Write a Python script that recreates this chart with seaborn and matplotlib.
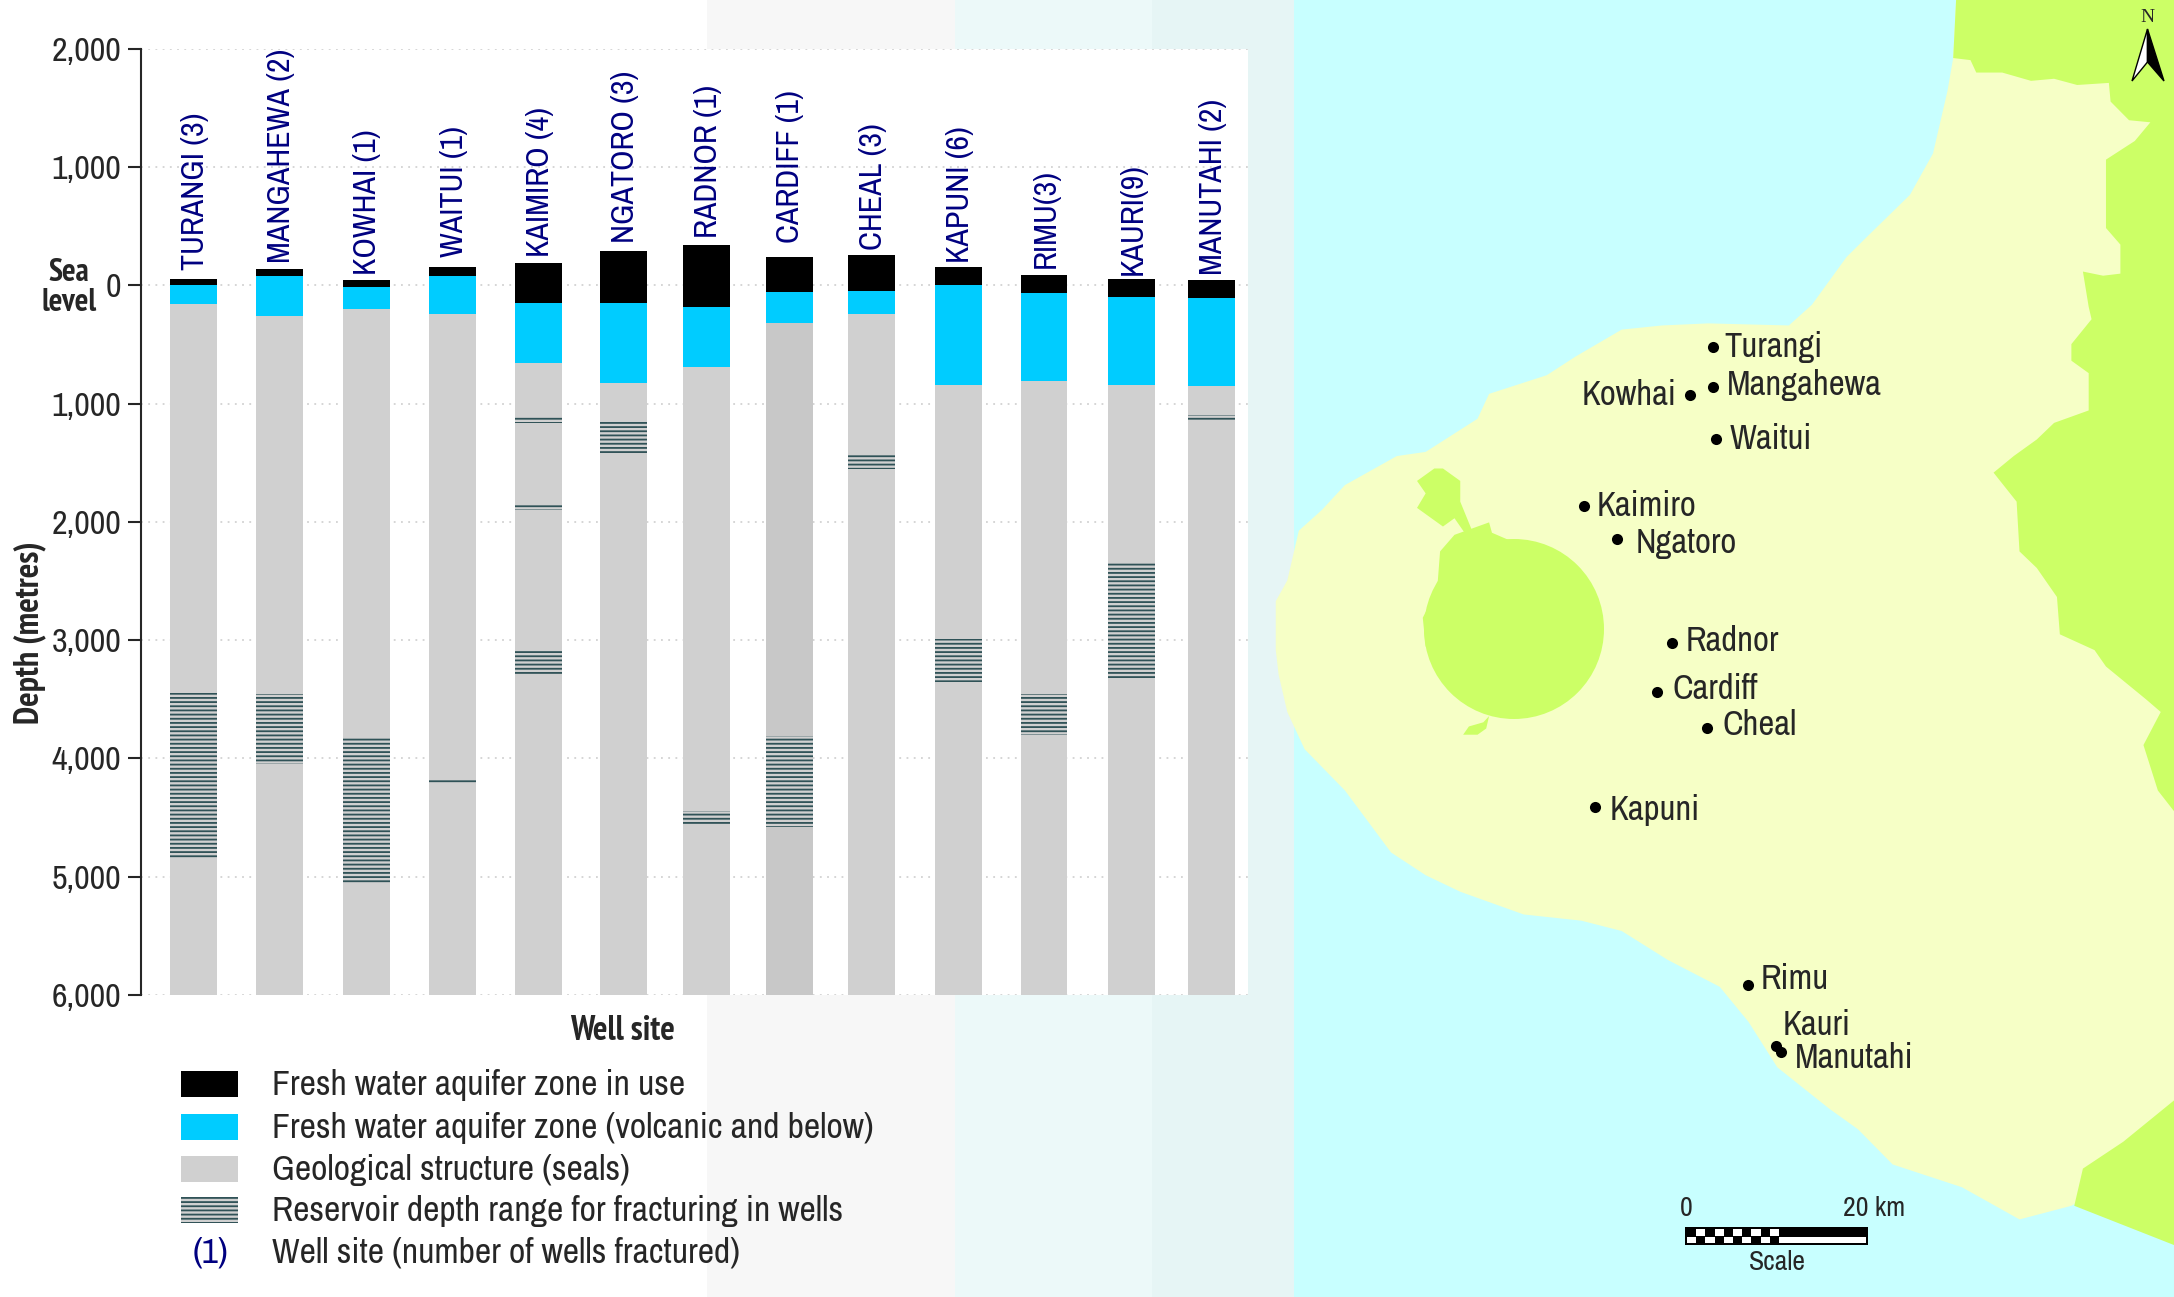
#! /usr/bin/env python
# Taranaki well sites: aquifer zones and fracturing depths, with location map
from matplotlib.patches import Circle, Polygon, Rectangle
import matplotlib.pyplot as plt
import numpy as np
import pandas as pd
import seaborn as sns

# settings
sns.set_style("ticks")
NARROW = ['Archivo Narrow', 'Liberation Sans']
NARROW_BOLD = ['PT Sans Narrow', 'Liberation Sans']
plt.rcParams['font.family'] = NARROW
plt.rcParams['hatch.linewidth'] = 1.3

# DATASETS
# depths in metres below sea level (negative = above sea level)
sites = ['TURANGI', 'MANGAHEWA', 'KOWHAI', 'WAITUI', 'KAIMIRO', 'NGATORO', 'RADNOR',
         'CARDIFF', 'CHEAL', 'KAPUNI', 'RIMU', 'KAURI', 'MANUTAHI']
site_labels = ['TURANGI (3)', 'MANGAHEWA (2)', 'KOWHAI (1)', 'WAITUI (1)', 'KAIMIRO (4)',
               'NGATORO (3)', 'RADNOR (1)', 'CARDIFF (1)', 'CHEAL (3)', 'KAPUNI (6)',
               'RIMU(3)', 'KAURI(9)', 'MANUTAHI (2)']
use_top = [-51, -138, -45, -152, -189, -290, -341, -239, -254, -152, -87, -51, -42]
use_base = [0, -76, 14, -79, 152, 152, 186, 59, 51, 0, 62, 99, 107]
volcanic_base = [160, 259, 200, 242, 656, 825, 690, 318, 242, 842, 808, 842, 854]
total_depth = 6000

# reservoir depth ranges for fracturing
res_site = ['TURANGI', 'MANGAHEWA', 'KOWHAI', 'WAITUI', 'KAIMIRO', 'KAIMIRO', 'KAIMIRO', 'NGATORO',
            'RADNOR', 'CARDIFF', 'CHEAL', 'KAPUNI', 'RIMU', 'KAURI', 'MANUTAHI']
res_top = [3445, 3456, 3830, 4169, 1104, 1845, 3090, 1155, 4445, 3811, 1439, 2992, 3459, 2350, 1096]
res_base = [4845, 4048, 5051, 4217, 1161, 1896, 3296, 1434, 4555, 4580, 1555, 3352, 3800, 3321, 1146]

depth_ticks = [-2000, -1000, 0, 1000, 2000, 3000, 4000, 5000, 6000]

legend_labels = ['Fresh water aquifer zone in use', 'Fresh water aquifer zone (volcanic and below)',
                 'Geological structure (seals)', 'Reservoir depth range for fracturing in wells',
                 'Well site (number of wells fractured)']

# map sites
map_names = ['Turangi', 'Mangahewa', 'Kowhai', 'Waitui', 'Kaimiro', 'Ngatoro', 'Radnor',
             'Cardiff', 'Cheal', 'Kapuni', 'Rimu', 'Kauri', 'Manutahi']
map_x = [1713, 1713, 1690, 1716, 1584, 1617, 1672, 1657, 1707, 1595, 1748, 1776, 1781]
map_y = [347, 387, 395, 439, 506, 539, 643, 692, 728, 807, 985, 1046, 1052]
map_label_x = [1724, 1727, 1676, 1730, 1597, 1636, 1686, 1672, 1723, 1610, 1761, 1783, 1795]
map_label_y = [347, 385, 395, 439, 506, 543, 641, 689, 725, 810, 979, 1025, 1058]

def north(pts):
    return np.array(pts) / [1.7345, 2.412] + [1270, 0]

def south(pts):
    return np.array(pts) / [1.7345, 2.42] + [1270, 650]

coast = np.vstack([
    north([(1190, 0), (1185, 140), (1175, 220), (1150, 370), (1110, 470), (1040, 565), (1000, 620),
           (940, 735), (900, 785), (760, 780), (680, 785), (610, 795), (530, 860), (480, 905),
           (380, 950), (360, 1010), (270, 1090), (220, 1100), (130, 1170), (90, 1230), (50, 1280),
           (30, 1400), (10, 1450), (10, 1568)]),
    south([(15, 60), (30, 150), (60, 240), (130, 340), (210, 490), (270, 545), (330, 585),
           (440, 640), (540, 655), (610, 680), (690, 750), (780, 815), (830, 900), (880, 1010),
           (970, 1110), (1020, 1160), (1080, 1245), (1200, 1300), (1300, 1378), (1390, 1345),
           (1568, 1200)]),
    north([(1568, 0)])])
hills_north = np.vstack([
    north([(1190, 0), (1185, 140), (1215, 145), (1225, 175), (1270, 175), (1320, 195), (1360, 190),
           (1400, 205), (1455, 200), (1458, 245), (1490, 290), (1527, 295), (1500, 340), (1450, 385),
           (1450, 470), (1450, 550), (1475, 590), (1475, 660), (1445, 665), (1410, 655), (1420, 740),
           (1425, 770), (1390, 830), (1390, 870), (1420, 900), (1420, 990), (1360, 1020), (1330, 1060),
           (1290, 1100), (1255, 1140), (1295, 1210), (1300, 1330), (1330, 1370), (1365, 1440),
           (1370, 1530), (1430, 1568)]),
    south([(1430, 0), (1450, 40), (1520, 120), (1545, 150), (1515, 230), (1540, 340), (1568, 390)]),
    north([(1568, 0)])])
hills_south = south([(1568, 1090), (1480, 1190), (1410, 1255), (1395, 1345), (1568, 1440)])
pouakai = north([(285, 1130), (300, 1130), (330, 1160), (330, 1210), (352, 1285), (340, 1290), (320, 1250),
                 (300, 1270), (255, 1225), (270, 1190), (255, 1160)])
park_shoulder = north([(265, 1490), (290, 1420), (295, 1330), (320, 1290), (380, 1260), (385, 1285),
                       (410, 1300), (500, 1340), (270, 1560)])
park_foot = south([(380, 160), (375, 190), (360, 205), (335, 205), (345, 185), (370, 175)])

# figure: background layer in pixel coordinates, chart axes on top
fig = plt.figure(figsize=(21.74, 12.97), dpi=100)
bg = fig.add_axes([0, 0, 1, 1], zorder=0)

# faint bands left behind the chart, then sea
bg.add_patch(Rectangle((707, 0), 248, 1297, fc='#f7f7f7', lw=0))
bg.add_patch(Rectangle((955, 0), 340, 1297, fc='#ecf9f9', lw=0))
bg.add_patch(Rectangle((1152, 0), 143, 1297, fc='#e6f5f5', lw=0))
bg.add_patch(Rectangle((1294, 0), 880, 1297, fc='#c8ffff', lw=0))

# land and hills
bg.add_patch(Polygon(coast, fc='#f6ffc6', lw=0))
for shape in [hills_north, hills_south, pouakai, park_shoulder, park_foot]:
    bg.add_patch(Polygon(shape, fc='#ccff66', lw=0))
bg.add_patch(Circle((1514, 629), 90, fc='#ccff66', lw=0))

# well sites on the map
sns.scatterplot(x=map_x, y=map_y, color='black', s=64, linewidth=0, legend=False, ax=bg)
for name, x, y in zip(map_names, map_label_x, map_label_y):
    bg.text(x, y, name, fontsize=25, va='center', ha='right' if name == 'Kowhai' else 'left')

# north arrow
bg.add_patch(Polygon([(2147.5, 29), (2132, 81), (2147.5, 62)], fc='white', ec='black', lw=1))
bg.add_patch(Polygon([(2147.5, 29), (2164, 81), (2147.5, 62)], fc='black', ec='black', lw=1))
bg.text(2147.5, 17, 'N', family='Liberation Serif', fontsize=14, ha='center', va='center')

# scale bar
bg.add_patch(Rectangle((1685, 1227), 183, 18, fc='black', lw=0))
for col in range(10):
    bg.add_patch(Rectangle((1687 + col * 9.2, 1229 if col % 2 else 1236.5), 9.2, 6.5, fc='white', lw=0))
bg.add_patch(Rectangle((1779, 1236.5), 87, 6.5, fc='white', lw=0))
bg.text(1686, 1208, '0', fontsize=20, ha='center', va='center')
bg.text(1874, 1208, '20 km', fontsize=20, ha='center', va='center')
bg.text(1777, 1262, 'Scale', fontsize=20, ha='center', va='center')

# legend
swatch_y = [1071, 1114, 1156, 1197]
swatches = [dict(fc='black'), dict(fc='#00ccff'), dict(fc='#d0d0d0'),
            dict(fc='#d0d0d0', ec='#2f5257', hatch='----')]
for y, kws in zip(swatch_y, swatches):
    bg.add_patch(Rectangle((181, y), 57, 26, lw=0, **kws))
for y, label in zip([1085, 1128, 1170, 1211, 1253], legend_labels):
    bg.text(272, y, label, fontsize=25.7, va='center')
bg.text(211, 1253, '(1)', fontsize=25.7, color='#000080', ha='center', va='center')
bg.text(69, 288, 'Sea\nlevel', family=NARROW_BOLD, fontsize=23, fontweight='bold', ha='center', va='center', linespacing=1.0)

bg.set_xlim(0, 2174)
bg.set_ylim(1297, 0)
bg.axis('off')

# chart
ax = fig.add_axes([141 / 2174, 1 - 995 / 1297, 1107 / 2174, 946.3 / 1297], zorder=1)
wells = pd.DataFrame({'site': sites, 'use_top': use_top, 'use_base': use_base, 'volcanic_base': volcanic_base})
bar_kws = dict(order=sites, errorbar=None, width=0.554, saturation=1, linewidth=0, ax=ax)

sns.barplot(x=wells['site'], y=wells['use_base'] - wells['use_top'], bottom=wells['use_top'], color='black', **bar_kws)
sns.barplot(x=wells['site'], y=wells['volcanic_base'] - wells['use_base'], bottom=wells['use_base'], color='#00ccff', **bar_kws)
sns.barplot(x=wells['site'], y=total_depth - wells['volcanic_base'], bottom=wells['volcanic_base'], color='#d0d0d0', **bar_kws)
ax.patches[13 * 2 + sites.index('CARDIFF')].set_facecolor('#c8c8c8')

for site, top, base in zip(res_site, res_top, res_base):
    sns.barplot(x=[site], y=[base - top], bottom=top, color='#d0d0d0', edgecolor='#2f5257', hatch='----', **bar_kws)

# the columns are not quite evenly spaced in the original
bar_nudge = np.array([0, 1, 3, 5, 6, 6, 4, 2, 0, 2, 2.5, 5, 0]) / 84.8
for patch in ax.patches:
    i = int(round(patch.get_x() + patch.get_width() / 2))
    patch.set_x(patch.get_x() + bar_nudge[i])

# labels above the columns
label_gap = [9, 6, 5, 10, 6, 8, 7, 14, 5, 4, 7, 4, 5]
for i, label in enumerate(site_labels):
    ax.annotate(label, (i + bar_nudge[i], use_top[i]), xytext=(1, label_gap[i] * 0.72), textcoords='offset points',
                rotation=90, ha='center', va='bottom', fontsize=23, color='#000080')

ax.set_xlim(-0.619, 12.435)
ax.set_ylim(6000, -2000)
ax.set_xticks([])
ax.set_yticks(depth_ticks)
ax.set_yticklabels(['{:,}'.format(abs(d)) for d in depth_ticks])
ax.tick_params(axis='y', labelsize=24.5, length=9.7, width=1.5, pad=4.5)
ax.yaxis.grid(True, linestyle=(0, (1, 3)), color='#d2d2d2', linewidth=1.3)
ax.set_axisbelow(True)
sns.despine(ax=ax, bottom=True)
ax.spines['left'].set_linewidth(1.5)
ax.set_xlabel('Well site', family=NARROW_BOLD, fontsize=24.5, fontweight='bold', va='center')
ax.xaxis.set_label_coords((622 - 141) / 1107, -36 / 946.3)
ax.set_ylabel('Depth (metres)', family=NARROW_BOLD, fontsize=24.5, fontweight='bold', va='center')
ax.yaxis.set_label_coords((30 - 141) / 1107, (995 - 633) / 946.3)

fig.savefig('out.png', dpi=100)
plt.close()
